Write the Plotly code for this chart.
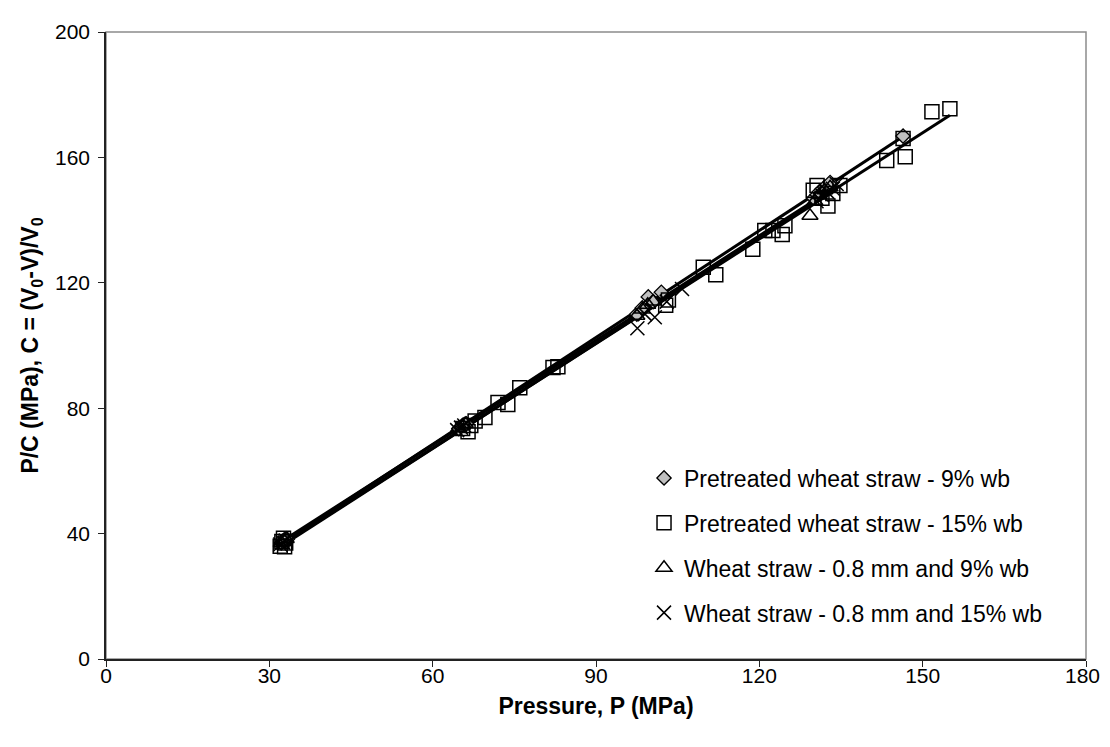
import numpy as np
import plotly.graph_objects as go

# Pretreated wheat straw - 9% wb (diamonds)
p9_x = [32.2, 32.5, 32.8, 33.0, 33.3, 64.8, 65.3, 65.8, 66.2,
        97.5, 98.5, 99.6, 100.5, 102.0, 130.0, 131.0, 132.0, 133.0, 146.4]
p9_y = [37.0, 37.5, 38.0, 37.8, 38.2, 73.5, 74.2, 74.8, 75.0,
        110.0, 112.0, 115.5, 114.0, 117.0, 147.0, 149.0, 150.5, 152.0, 166.8]

# Pretreated wheat straw - 15% wb (squares)
p15_x = [32.0, 32.3, 32.6, 33.0, 32.8, 65.5, 66.5, 67.0, 67.8, 69.6, 72.0, 73.8,
         76.0, 82.1, 83.0, 102.8, 103.3, 109.7, 112.0, 118.8, 121.0, 122.5, 124.2,
         124.7, 129.9, 130.6, 131.5, 132.6, 133.5, 134.8, 143.4, 146.8, 146.4,
         151.7, 155.0]
p15_y = [36.0, 37.5, 38.5, 37.0, 35.8, 73.5, 72.5, 74.5, 75.9, 77.0, 81.8, 81.2,
         86.5, 93.0, 93.2, 112.8, 114.5, 125.0, 122.6, 130.7, 136.7, 136.7, 135.4,
         138.2, 149.5, 151.0, 147.0, 144.5, 148.5, 151.0, 159.0, 160.2, 166.0,
         174.6, 175.5]

# Wheat straw - 0.8 mm and 9% wb (triangles)
w9_x = [32.2, 32.6, 33.1, 64.8, 65.5, 66.0, 97.5, 98.5, 99.5, 100.5,
        129.3, 130.2, 131.0, 132.0, 133.0]
w9_y = [37.0, 37.8, 38.3, 73.8, 74.5, 75.0, 109.5, 111.5, 113.0, 114.0,
        141.4, 146.0, 148.0, 149.5, 150.5]

# Wheat straw - 0.8 mm and 15% wb (crosses)
w15_x = [32.0, 32.5, 33.0, 64.5, 65.2, 65.8, 97.6, 99.0, 100.8, 103.0, 105.8,
         130.5, 131.5, 132.5, 133.5, 134.2]
w15_y = [36.5, 37.2, 37.8, 73.0, 73.8, 74.5, 105.5, 110.0, 109.0, 114.0, 118.0,
         146.0, 148.0, 149.0, 150.0, 151.5]

x_ticks = [0, 30, 60, 90, 120, 150, 180]
x_ticklabels = ["0", "30", "60", "90", "120", "150", "180"]
y_ticks = [0, 40, 80, 120, 160, 200]

FONT = "Liberation Sans, Arial, sans-serif"

fig = go.Figure()

series = [
    ("Pretreated wheat straw - 9% wb", p9_x, p9_y,
     dict(symbol="diamond", size=11, color="#c0c0c0", line=dict(color="black", width=1.3))),
    ("Pretreated wheat straw - 15% wb", p15_x, p15_y,
     dict(symbol="square-open", size=14, color="black", line=dict(color="black", width=1.5))),
    ("Wheat straw - 0.8 mm and 9% wb", w9_x, w9_y,
     dict(symbol="triangle-up-open", size=14, color="black", line=dict(color="black", width=1.5))),
    ("Wheat straw - 0.8 mm and 15% wb", w15_x, w15_y,
     dict(symbol="x-thin-open", size=14, color="black", line=dict(color="black", width=1.5))),
]

# regression lines
for name, xs, ys, mk in series:
    xs_a = np.array(xs)
    ys_a = np.array(ys)
    m, b = np.polyfit(xs_a, ys_a, 1)
    lx = np.array([xs_a.min(), xs_a.max()])
    fig.add_trace(go.Scatter(x=lx, y=m * lx + b, mode="lines",
                             line=dict(color="black", width=3),
                             showlegend=False, hoverinfo="skip"))

for i, (name, xs, ys, mk) in enumerate(series):
    fig.add_trace(go.Scatter(x=xs, y=ys, mode="markers", name=name,
                             marker=mk, legendgroup=f"g{i}"))

fig.add_shape(type="rect", xref="paper", yref="paper", x0=0, y0=0, x1=1, y1=1,
              line=dict(color="#8c8c8c", width=1.5), layer="below")

# the last x tick label sits at the page edge; draw it right-anchored so it stays inside
fig.add_annotation(x=x_ticks[-1], xref="x", y=0, yref="paper",
                   text=x_ticklabels[-1], showarrow=False,
                   xanchor="right", yanchor="middle", xshift=16, yshift=-16,
                   font=dict(size=21, family=FONT, color="black"))

fig.update_layout(
    width=1094, height=731,
    margin=dict(l=98, r=16, t=13, b=80),
    paper_bgcolor="white", plot_bgcolor="white",
    font=dict(family=FONT, size=21, color="black"),
    legend=dict(x=0.549, y=0.323, xanchor="left", yanchor="top",
                bgcolor="rgba(0,0,0,0)", font=dict(size=23),
                tracegroupgap=12, itemwidth=30),
    xaxis=dict(range=[0, 180], tickvals=x_ticks,
               ticktext=x_ticklabels[:-1] + [""],
               showgrid=False, zeroline=False,
               showline=True, linecolor="#222", linewidth=1.5,
               ticks="outside", ticklen=6, tickcolor="#222",
               tickfont=dict(size=21), ticklabelstandoff=-9,
               title=dict(text="<b>Pressure, P (MPa)</b>", font=dict(size=23), standoff=12)),
    yaxis=dict(range=[0, 200], tickvals=y_ticks, showgrid=False, zeroline=False,
               showline=True, linecolor="#222", linewidth=1.5,
               ticks="outside", ticklen=6, tickcolor="#222",
               tickfont=dict(size=21), ticklabelstandoff=4,
               title=dict(text="<b>P/C (MPa), C = (V<sub>0</sub>-V)/V<sub>0</sub></b>",
                          font=dict(size=23), standoff=10)),
)

fig.write_html("out.html")
